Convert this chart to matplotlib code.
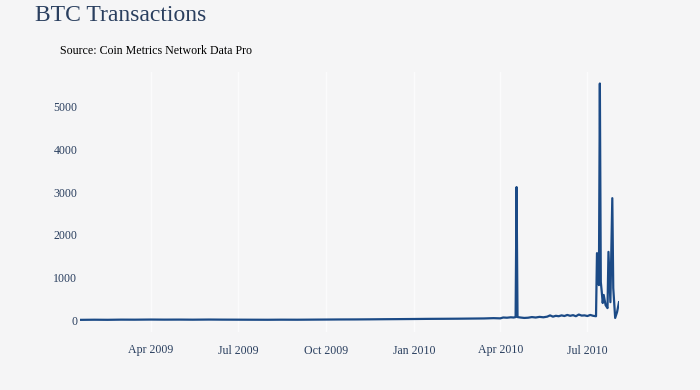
import matplotlib
matplotlib.use("Agg")
import matplotlib.pyplot as plt
import matplotlib.dates as mdates
import pandas as pd

dates = [
    "2009-01-17", "2009-02-01", "2009-02-15", "2009-03-01", "2009-03-15",
    "2009-04-01", "2009-04-15", "2009-05-01", "2009-05-15", "2009-06-01",
    "2009-06-15", "2009-07-01", "2009-07-15", "2009-08-01", "2009-08-15",
    "2009-09-01", "2009-09-15", "2009-10-01", "2009-10-15", "2009-11-01",
    "2009-11-15", "2009-12-01", "2009-12-15", "2010-01-01", "2010-01-15",
    "2010-02-01", "2010-02-15", "2010-03-01", "2010-03-15", "2010-03-25",
    "2010-04-01", "2010-04-04", "2010-04-08", "2010-04-12", "2010-04-15",
    "2010-04-17", "2010-04-18", "2010-04-19", "2010-04-22", "2010-04-26",
    "2010-04-30", "2010-05-04", "2010-05-08", "2010-05-12", "2010-05-16",
    "2010-05-20", "2010-05-23", "2010-05-26", "2010-05-29", "2010-06-01",
    "2010-06-04", "2010-06-07", "2010-06-10", "2010-06-13", "2010-06-16",
    "2010-06-19", "2010-06-22", "2010-06-25", "2010-06-28", "2010-07-01",
    "2010-07-04", "2010-07-07", "2010-07-10", "2010-07-11", "2010-07-13",
    "2010-07-14", "2010-07-15", "2010-07-16", "2010-07-17", "2010-07-18",
    "2010-07-20", "2010-07-22", "2010-07-23", "2010-07-25", "2010-07-27",
    "2010-07-28", "2010-07-30", "2010-08-01", "2010-08-03",
]
tx_count = [
    5, 8, 6, 10, 9,
    12, 10, 11, 9, 12,
    10, 9, 8, 7, 9,
    8, 10, 12, 14, 15,
    17, 20, 22, 25, 28,
    30, 32, 35, 38, 45,
    40, 60, 55, 65, 60,
    70, 3120, 70, 60, 50,
    55, 70, 60, 75, 65,
    80, 110, 80, 100, 90,
    110, 95, 120, 100, 115,
    90, 130, 105, 110, 95,
    120, 100, 90, 1570, 820,
    5550, 890, 660, 400, 590,
    350, 280, 1600, 420, 2860,
    750, 50, 190, 420,
]
y_ticks = [0, 1000, 2000, 3000, 4000, 5000]

bg = "#f5f5f6"
text_col = "#2a3f5f"
plt.rcParams["font.family"] = ["Liberation Serif", "DejaVu Serif"]

x = pd.to_datetime(dates)

fig = plt.figure(figsize=(7, 3.9), dpi=100, facecolor=bg)
ax = fig.add_axes([80 / 700, 58 / 390, 539 / 700, 260 / 390])
ax.set_facecolor(bg)

ax.plot(x, tx_count, color="#1b4a86", linewidth=1.6, solid_joinstyle="round")

ax.set_xlim(x[0], x[-1])
ax.set_ylim(-280, 5820)

ax.xaxis.set_major_locator(mdates.MonthLocator(bymonth=[1, 4, 7, 10]))
ax.xaxis.set_major_formatter(mdates.DateFormatter("%b %Y"))
ax.set_yticks(y_ticks)
ax.set_yticklabels([str(v) for v in y_ticks])

# faint vertical grid, like the reference
ax.grid(True, axis="x", color="#fbfbfc", linewidth=1)
ax.set_axisbelow(True)
for s in ax.spines.values():
    s.set_visible(False)
ax.tick_params(axis="both", length=0, labelsize=8.6, labelcolor=text_col)
ax.tick_params(axis="x", pad=9)
ax.tick_params(axis="y", pad=2)

fig.text(35 / 700, 1 - 21 / 390, "BTC Transactions", fontsize=17,
         color=text_col, va="baseline", ha="left")
fig.text(60 / 700, 1 - 54.5 / 390, "Source: Coin Metrics Network Data Pro",
         fontsize=8.6, color="black", va="baseline", ha="left")

fig.savefig("out.png", dpi=100, facecolor=bg)
